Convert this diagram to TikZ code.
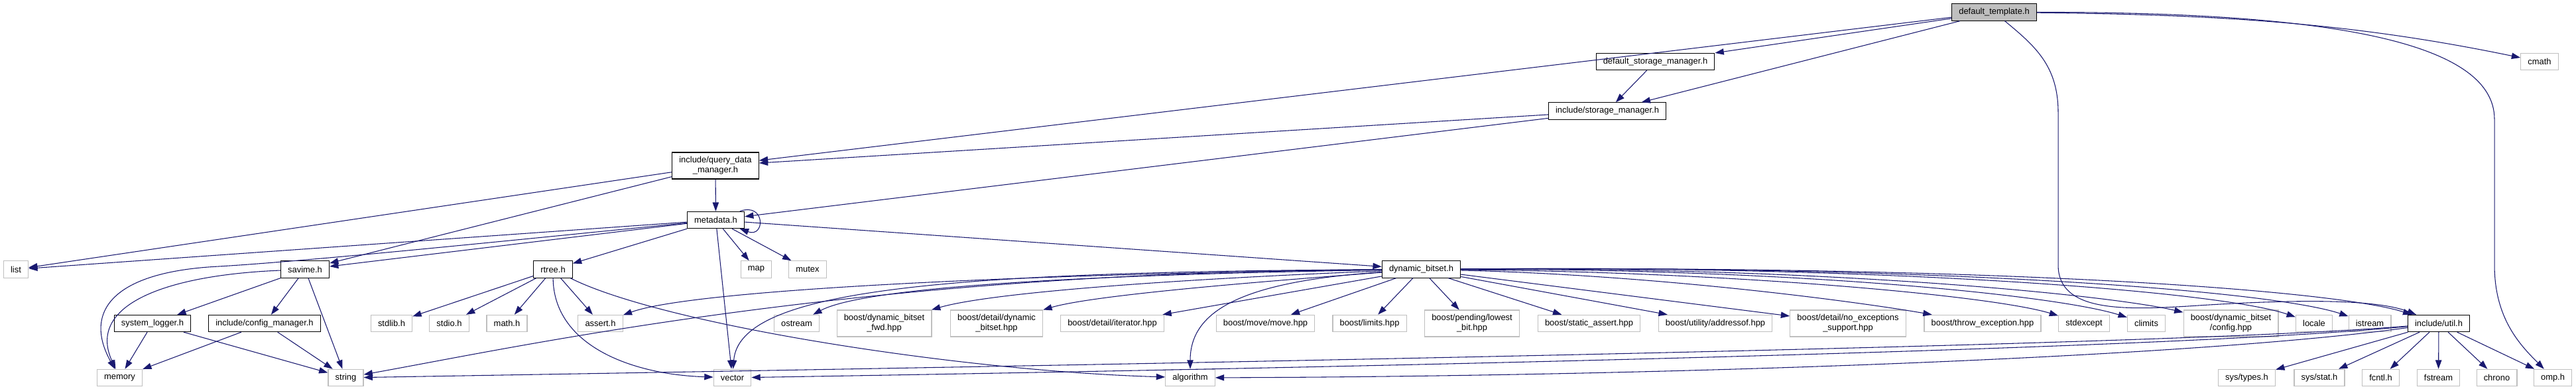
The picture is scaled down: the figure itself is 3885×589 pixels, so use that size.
\documentclass[tikz,border=0pt]{standalone}
\usepackage{fontspec}
\setmainfont{Liberation Sans}
\usetikzlibrary{arrows.meta}

\definecolor{inclblue}{HTML}{191970}
\definecolor{boxgray}{HTML}{BFBFBF}

\begin{document}
\begin{tikzpicture}[x=0.75pt,y=-0.75pt,
  every node/.style={font=\fontsize{9.7}{11.25}\selectfont, inner xsep=8pt, inner ysep=2pt,
    minimum height=19pt, align=center},
  srcfile/.style={draw=black, fill=boxgray, line width=0.8pt},
  hdrfile/.style={draw=black, fill=white, line width=0.8pt},
  extfile/.style={draw=boxgray, fill=white, line width=0.9pt},
  twoline/.style={minimum height=30pt},
  incl/.style={draw=inclblue, line width=0.8pt, -{Triangle[length=10pt,width=7pt]}}]

% Frame
\fill[white] (0,0) rectangle (3885,589);
\useasboundingbox (0,0) rectangle (3885,589);

% Top part
\node[srcfile] (dt) at (3007.5,18.5) {default\_template.h};
\node[extfile] (cmath) at (3830,93) {cmath};
\node[hdrfile] (dsm) at (2496.5,93) {default\_storage\_manager.h};
\node[hdrfile] (ism) at (2424,167.5) {include/storage\_manager.h};
\node[hdrfile,twoline] (qdm) at (1079,250) {include/query\_data\\\_manager.h};
\node[hdrfile] (md) at (1079.5,332) {metadata.h};

% Second row
\node[extfile] (lst) at (24,406.5) {list};
\node[hdrfile] (savime) at (460,406.5) {savime.h};
\node[hdrfile] (rtree) at (834,406.5) {rtree.h};
\node[extfile] (mapn) at (1140.5,406.5) {map};
\node[extfile] (mutex) at (1218,406.5) {mutex};
\node[hdrfile] (dbs) at (2143.5,406.5) {dynamic\_bitset.h};

% Third row
\node[hdrfile] (slog) at (230,488) {system\_logger.h};
\node[hdrfile] (cfgm) at (399,488) {include/config\_manager.h};
\foreach \n/\x/\t in {stdlib/590.5/stdlib.h, stdio/677.5/stdio.h, mathh/764.5/math.h,
    assert/905.5/assert.h, ostream/1201.5/ostream, bditer/1677.5/{boost/detail/iterator.hpp},
    bmove/1908.5/{boost/move/move.hpp}, blimits/2065.5/{boost/limits.hpp},
    bstatic/2396.5/{boost/static\_assert.hpp}, baddr/2587/{boost/utility/addressof.hpp},
    bthrow/2990/{boost/throw\_exception.hpp}, stdexcept/3143/stdexcept, climits/3237/climits,
    locale/3490/locale, istream/3574/istream}
  \node[extfile] (\n) at (\x,488) {\t};
\node[extfile,twoline] (bdfwd) at (1333.5,488) {boost/dynamic\_bitset\\\_fwd.hpp};
\node[extfile,twoline] (bddyn) at (1503,488) {boost/detail/dynamic\\\_bitset.hpp};
\node[extfile,twoline] (blowbit) at (2220,488) {boost/pending/lowest\\\_bit.hpp};
\node[extfile,twoline] (bnoexc) at (2787,488) {boost/detail/no\_exceptions\\\_support.hpp};
\node[extfile,twoline] (bcfg) at (3364.5,488) {boost/dynamic\_bitset\\/config.hpp};
\node[hdrfile] (util) at (3678,488) {include/util.h};

% Bottom row
\foreach \n/\x/\t in {memory/180.5/memory, string/521.5/string, vector/1104.5/vector,
    algorithm/1795/algorithm, systypes/3388.5/{sys/types.h}, sysstat/3498/{sys/stat.h},
    fcntl/3590.5/fcntl.h, fstream/3677.5/fstream, chrono/3765.5/chrono, omp/3850/omp.h}
  \node[extfile] (\n) at (\x,570) {\t};

% Straight includes
\foreach \a/\b in {dt/qdm, dt/dsm, dt/ism, dsm/ism, ism/qdm, ism/md, qdm/md, qdm/lst,
    qdm/savime, md/lst, md/savime, md/rtree, md/mapn, md/mutex, md/vector, md/dbs,
    savime/slog, savime/cfgm, savime/string, slog/memory, slog/string, cfgm/memory,
    cfgm/string, rtree/stdlib, rtree/stdio, rtree/mathh, rtree/assert, dbs/bditer,
    dbs/bmove, dbs/blimits, dbs/blowbit, dbs/bstatic, dbs/baddr, dbs/bnoexc,
    util/systypes, util/sysstat, util/fcntl, util/fstream, util/chrono, util/omp}
  \draw[incl] (\a) -- (\b);

% Curved includes of default_template.h
\draw[incl] (dt) .. controls (3350,22) and (3550,35) .. (cmath);
\draw[incl] (dt) .. controls (3500,18) and (3762,60) .. (3762,180) -- (3762,400)
  .. controls (3762,480) and (3800,520) .. (omp);
\draw[incl] (dt) .. controls (3070,70) and (3104,100) .. (3104,170) -- (3104,400)
  .. controls (3104,470) and (3200,468) .. (3300,462)
  .. controls (3450,452) and (3580,450) .. (util);

% Curved includes of metadata.h, savime.h and rtree.h
\draw[incl] (md) to[out=20,in=-20,looseness=4] (md);
\draw[incl] (md) .. controls (700,370) and (450,395) .. (330,402)
  .. controls (170,410) and (125,470) .. (memory);
\draw[incl] (savime) .. controls (250,415) and (130,460) .. (memory);
\draw[incl] (rtree) .. controls (835,520) and (950,565) .. (vector);
\draw[incl] (rtree) .. controls (1000,490) and (1450,560) .. (algorithm);

% Curved includes of dynamic_bitset.h
\foreach \t/\ax/\ay/\bx/\by in {assert/1600/412/1050/435, vector/1400/410/1115/440,
    string/1300/410/800/520, ostream/1600/415/1300/435, bdfwd/1800/420/1500/440,
    bddyn/1900/425/1650/445, algorithm/1870/425/1795/470,
    bthrow/2500/415/2800/455, stdexcept/2600/410/3000/445, climits/2700/405/3100/445,
    bcfg/2750/402/3180/445, locale/2850/400/3350/440, istream/2950/400/3430/440,
    util/3050/400/3530/440}
  \draw[incl] (dbs) .. controls (\ax,\ay) and (\bx,\by) .. (\t);

% Long includes of include/util.h
\foreach \t/\ax/\ay/\bx/\by in {string/3300/520/2000/545, vector/3300/525/2200/552,
    algorithm/3300/540/2500/568}
  \draw[incl] (util) .. controls (\ax,\ay) and (\bx,\by) .. (\t);

\end{tikzpicture}
\end{document}
